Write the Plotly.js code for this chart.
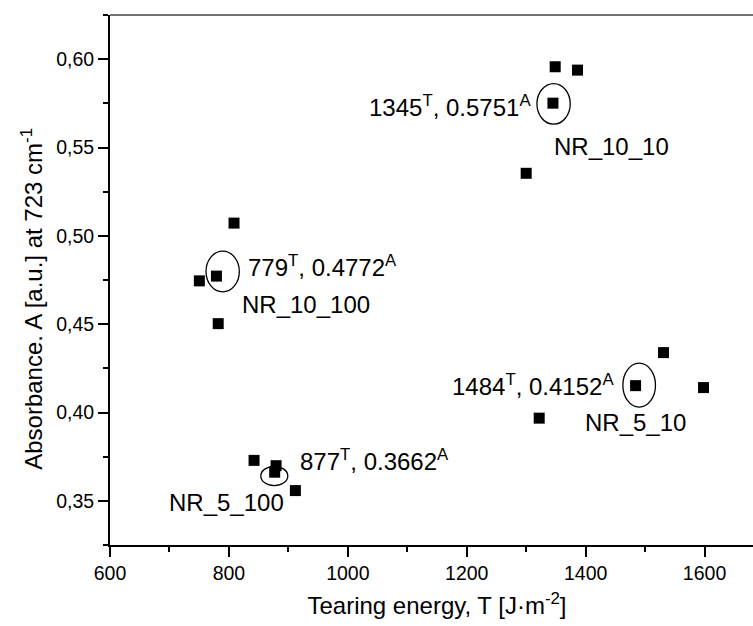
<!DOCTYPE html>
<html>
<head>
<meta charset="utf-8">
<script src="https://cdn.plot.ly/plotly-3.0.1.min.js"></script>
<style>
  html, body { margin: 0; padding: 0; overflow: hidden; background: #fff; }
  #chart { width: 770px; height: 626px; }
</style>
</head>
<body>
<div id="chart"></div>
<script>
// ---- data ----
const tearingEnergy = [1348.8, 1386.3, 1345, 1300, 808.6, 779, 750.3, 782, 842.3, 879.3, 877, 911.8, 1531, 1484, 1598.3, 1321.9];
const absorbance    = [0.5957, 0.5938, 0.5751, 0.5354, 0.5072, 0.4772, 0.4745, 0.4503, 0.3729, 0.3699, 0.3662, 0.3558, 0.4339, 0.4152, 0.4141, 0.3968];

const sampleNames = ['NR_10_10', 'NR_10_100', 'NR_5_100', 'NR_5_10'];
const calloutT    = [1345, 779, 877, 1484];
const calloutA    = [0.5751, 0.4772, 0.3662, 0.4152];

const xTitle = 'Tearing energy, T [J·m<sup>-2</sup>]';
const yTitle = 'Absorbance. A [a.u.] at 723 cm<sup>-1</sup>';

// ---- layout / styling ----
const FONT = 'Liberation Sans, Arial, sans-serif';

// per-callout offsets (pixels): value label and sample label, plus ellipse extents
const valueLabelStyle = [
  {xanchor: 'right', xshift: -20, yshift: -3},
  {xanchor: 'left',  xshift: 30,  yshift: 10},
  {xanchor: 'left',  xshift: 23,  yshift: 12},
  {xanchor: 'right', xshift: -20, yshift: 1}
];
const nameLabelStyle = [
  {xanchor: 'left',  xshift: -1,  yshift: -43},
  {xanchor: 'left',  xshift: 24,  yshift: -28},
  {xanchor: 'right', xshift: 11,  yshift: -30},
  {xanchor: 'left',  xshift: -53, yshift: -37}
];
const ellipseBox = [
  {x0: -16,  x1: 17.3, y0: -21,   y1: 19.6},
  {x0: -10.4, x1: 22.9, y0: -15.7, y1: 25},
  {x0: -13.9, x1: 13.1, y0: -13.4, y1: 5.9},
  {x0: -12.7, x1: 19.9, y0: -21.5, y1: 22.5}
];

const trace = {
  type: 'scatter',
  mode: 'markers',
  x: tearingEnergy,
  y: absorbance,
  marker: {symbol: 'square', size: 11, color: '#000', line: {width: 0}},
  hoverinfo: 'x+y',
  showlegend: false
};

const annotations = [];
const shapes = [];
calloutT.forEach((t, i) => {
  const v = valueLabelStyle[i];
  annotations.push({
    x: t, y: calloutA[i], xref: 'x', yref: 'y',
    text: t + '<sup>T</sup>, ' + calloutA[i].toFixed(4) + '<sup>A</sup>',
    showarrow: false, xanchor: v.xanchor, yanchor: 'middle',
    xshift: v.xshift, yshift: v.yshift,
    font: {family: FONT, size: 24, color: '#000'}
  });
  const n = nameLabelStyle[i];
  annotations.push({
    x: t, y: calloutA[i], xref: 'x', yref: 'y',
    text: sampleNames[i],
    showarrow: false, xanchor: n.xanchor, yanchor: 'middle',
    xshift: n.xshift, yshift: n.yshift,
    font: {family: FONT, size: 24, color: '#000'}
  });
  const e = ellipseBox[i];
  shapes.push({
    type: 'circle', xref: 'x', yref: 'y',
    xsizemode: 'pixel', ysizemode: 'pixel',
    xanchor: t, yanchor: calloutA[i],
    x0: e.x0, x1: e.x1, y0: e.y0, y1: e.y1,
    line: {color: '#000', width: 1.3}
  });
});

// y-axis title placed as rotated text (sits slightly below the axis centre in the reference)
annotations.push({
  xref: 'paper', yref: 'paper', x: -0.1197, y: 0.464,
  xanchor: 'center', yanchor: 'middle', textangle: -90,
  text: yTitle, showarrow: false,
  font: {family: FONT, size: 24, color: '#000'}
});

// top frame line
shapes.push({
  type: 'line', xref: 'paper', yref: 'paper', x0: 0, x1: 1, y0: 1, y1: 1,
  line: {color: '#444', width: 1.5}
});

const layout = {
  width: 770, height: 626,
  margin: {l: 110, r: 6, t: 15, b: 81},
  paper_bgcolor: '#fff', plot_bgcolor: '#fff',
  separators: ',.',
  font: {family: FONT, color: '#000'},
  xaxis: {
    range: [600, 1700],
    tickmode: 'linear', tick0: 600, dtick: 200,
    ticks: 'outside', ticklen: 10, tickwidth: 2, tickcolor: '#000',
    minor: {dtick: 100, tick0: 600, ticks: 'outside', ticklen: 5, tickwidth: 2, tickcolor: '#000', showgrid: false},
    showline: true, linecolor: '#000', linewidth: 2,
    showgrid: false, zeroline: false,
    tickfont: {family: FONT, size: 19.5, color: '#000'},
    title: {text: xTitle, font: {family: FONT, size: 24, color: '#000'}, standoff: 14}
  },
  yaxis: {
    range: [0.325, 0.625],
    tickmode: 'linear', tick0: 0.35, dtick: 0.05, tickformat: '.2f',
    ticks: 'outside', ticklen: 10, tickwidth: 2, tickcolor: '#000',
    minor: {dtick: 0.025, tick0: 0.325, ticks: 'outside', ticklen: 5, tickwidth: 2, tickcolor: '#000', showgrid: false},
    showline: true, linecolor: '#000', linewidth: 2,
    showgrid: false, zeroline: false,
    tickfont: {family: FONT, size: 19.5, color: '#000'}
  },
  annotations: annotations,
  shapes: shapes
};

Plotly.newPlot('chart', [trace], layout, {displayModeBar: false, staticPlot: true});
</script>
</body>
</html>
